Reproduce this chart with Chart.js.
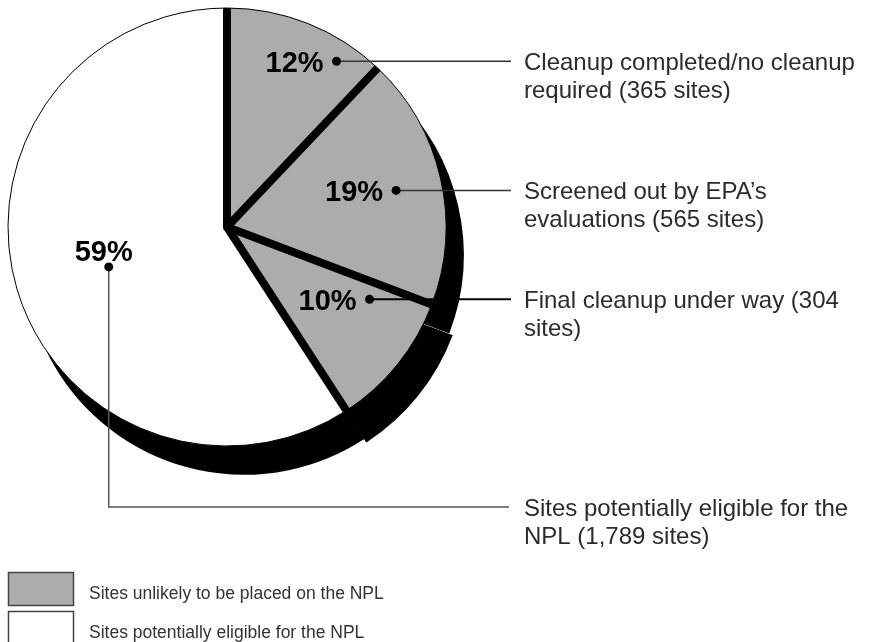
<!DOCTYPE html>
<html>
<head>
<meta charset="utf-8">
<script src="https://cdn.jsdelivr.net/npm/chart.js@4.4.1/dist/chart.umd.min.js"></script>
<style>
  html, body { margin: 0; padding: 0; background: #fff; }
  #wrap { position: relative; width: 873px; height: 642px; }
</style>
</head>
<body>
<div id="wrap"><canvas id="nplChart" width="873" height="642"></canvas></div>
<script>
const categories = [
  "Cleanup completed/no cleanup required",
  "Screened out by EPA\u2019s evaluations",
  "Final cleanup under way",
  "Sites potentially eligible for the NPL",
];
const siteCounts = [365, 565, 304, 1789];
const percentLabels = ["12%", "19%", "10%", "59%"];
const calloutLines = [
  ["Cleanup completed/no cleanup", "required (365 sites)"],
  ["Screened out by EPA\u2019s", "evaluations (565 sites)"],
  ["Final cleanup under way (304", "sites)"],
  ["Sites potentially eligible for the", "NPL (1,789 sites)"],
];
const legendLabels = [
  "Sites unlikely to be placed on the NPL",
  "Sites potentially eligible for the NPL",
];

const GREY = "#acacac";
const sliceColors = [GREY, GREY, GREY, "#ffffff"];
const legendColors = [GREY, "#ffffff"];
const TEXT_FONT = "'Liberation Sans', Arial, sans-serif";

// where each callout dot sits: fraction through the slice angle, fraction of radius
const dotSpots = [[0.77, 0.907], [0.51, 0.79], [0.17, 0.73], [0.49, 0.57]];
// offset of the black drop shadow under each slice
const shadowOffset = [[17, 28], [17, 28], [20, 31], [17, 28]];

function arcProps(arc) {
  return arc.getProps(["x", "y", "startAngle", "endAngle", "outerRadius"], true);
}

const shadowPlugin = {
  id: "pieShadow",
  beforeDatasetsDraw(chart) {
    const ctx = chart.ctx;
    ctx.save();
    ctx.fillStyle = "#000";
    ctx.strokeStyle = "#000";
    ctx.lineWidth = 1.5;
    chart.getDatasetMeta(0).data.forEach(function (arc, i) {
      const p = arcProps(arc);
      const cx = p.x + shadowOffset[i][0];
      const cy = p.y + shadowOffset[i][1];
      ctx.beginPath();
      ctx.moveTo(cx, cy);
      ctx.arc(cx, cy, p.outerRadius, p.startAngle, p.endAngle);
      ctx.closePath();
      ctx.fill();
      ctx.stroke();
    });
    ctx.restore();
  },
};

// thick black lines along the slice edges
const edgePlugin = {
  id: "sliceEdges",
  afterDatasetsDraw(chart) {
    const ctx = chart.ctx;
    ctx.save();
    ctx.strokeStyle = "#000";
    ctx.lineWidth = 8;
    chart.getDatasetMeta(0).data.forEach(function (arc) {
      const p = arcProps(arc);
      ctx.beginPath();
      ctx.moveTo(p.x, p.y);
      ctx.lineTo(p.x + Math.cos(p.startAngle) * p.outerRadius, p.y + Math.sin(p.startAngle) * p.outerRadius);
      ctx.stroke();
    });
    // fill the hub where the edges meet
    const p0 = arcProps(chart.getDatasetMeta(0).data[0]);
    ctx.beginPath();
    ctx.arc(p0.x, p0.y, 4, 0, Math.PI * 2);
    ctx.fillStyle = "#000";
    ctx.fill();
    ctx.restore();
  },
};

const calloutPlugin = {
  id: "callouts",
  afterDraw(chart) {
    const ctx = chart.ctx;
    const lineEndX = 511;
    const textX = 524;
    ctx.save();
    chart.getDatasetMeta(0).data.forEach(function (arc, i) {
      const p = arcProps(arc);
      const a = p.startAngle + dotSpots[i][0] * (p.endAngle - p.startAngle);
      const r = dotSpots[i][1] * p.outerRadius;
      const dx = p.x + Math.cos(a) * r;
      const dy = p.y + Math.sin(a) * r;

      // leader line
      ctx.beginPath();
      let textY;
      if (i < 3) {
        ctx.moveTo(dx, dy);
        ctx.lineTo(lineEndX, dy);
        textY = dy;
      } else {
        textY = 507;
        ctx.moveTo(dx, dy);
        ctx.lineTo(dx, textY);
        ctx.lineTo(lineEndX - 2, textY);
      }
      ctx.lineWidth = i === 2 ? 2 : 1.5;
      ctx.strokeStyle = i === 2 ? "#000" : (i === 3 ? "#555" : "#333");
      ctx.stroke();

      // dot
      ctx.beginPath();
      ctx.arc(dx, dy, 4.5, 0, Math.PI * 2);
      ctx.fillStyle = "#000";
      ctx.fill();

      // percent label
      ctx.font = "bold 29px " + TEXT_FONT;
      ctx.textBaseline = "alphabetic";
      if (i < 3) {
        ctx.textAlign = "right";
        ctx.fillText(percentLabels[i], dx - 13, dy + 10.5);
      } else {
        ctx.textAlign = "center";
        ctx.fillText(percentLabels[i], dx - 5, dy - 6);
      }

      // callout text
      ctx.font = "24px " + TEXT_FONT;
      ctx.textAlign = "left";
      ctx.fillStyle = "#2b2b2b";
      calloutLines[i].forEach(function (line, k) {
        ctx.fillText(line, textX, textY + 9 + k * 28);
      });
    });

    // legend
    ctx.lineWidth = 1.5;
    ctx.strokeStyle = "#444";
    ctx.font = "17.5px " + TEXT_FONT;
    ctx.textAlign = "left";
    legendLabels.forEach(function (label, i) {
      const top = 572.5 + i * 39;
      ctx.fillStyle = legendColors[i];
      ctx.fillRect(8.5, top, 65, 33);
      ctx.strokeRect(8.5, top, 65, 33);
      ctx.fillStyle = "#333";
      ctx.fillText(label, 89, top + 26.5);
    });
    ctx.restore();
  },
};

new Chart(document.getElementById("nplChart"), {
  type: "pie",
  data: {
    labels: categories,
    datasets: [
      {
        data: siteCounts,
        backgroundColor: sliceColors,
        borderColor: "#000",
        borderWidth: 1,
        hoverOffset: 0,
        radius: 219,
      },
    ],
  },
  options: {
    responsive: false,
    animation: false,
    events: [],
    layout: { padding: { left: 0, top: 0, right: 419, bottom: 188 } },
    plugins: {
      legend: { display: false },
      tooltip: { enabled: false },
    },
  },
  plugins: [shadowPlugin, edgePlugin, calloutPlugin],
});
</script>
</body>
</html>
